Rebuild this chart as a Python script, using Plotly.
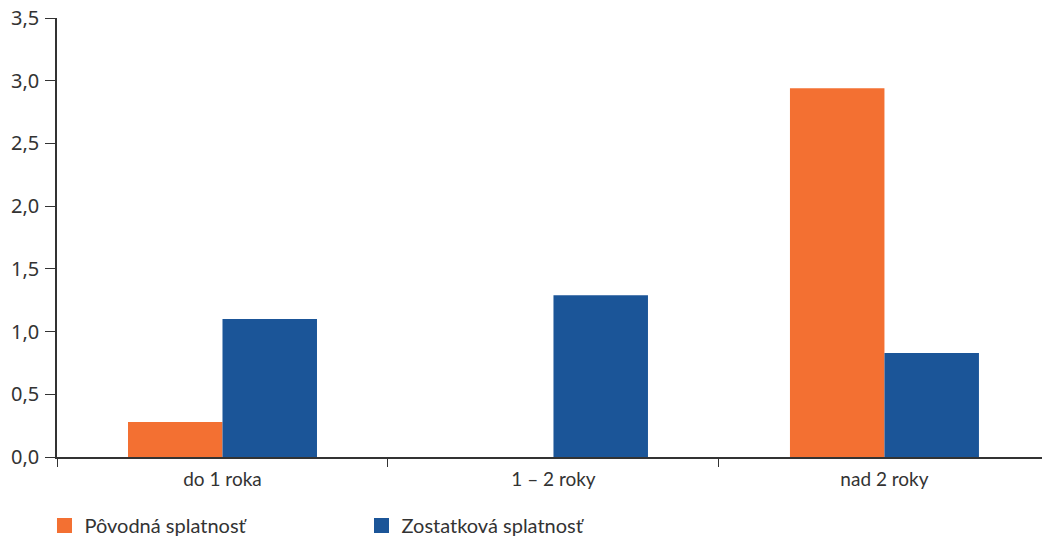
import plotly.graph_objects as go

categories = ["do 1 roka", "1 – 2 roky", "nad 2 roky"]
povodna = [0.28, 0, 2.94]
zostatkova = [1.10, 1.29, 0.83]
series_names = ["Pôvodná splatnosť", "Zostatková splatnosť"]
series_colors = ["#F37032", "#1B5598"]
y_ticks = [0, 0.5, 1.0, 1.5, 2.0, 2.5, 3.0, 3.5]

fig = go.Figure()
for name, vals, col in zip(series_names, [povodna, zostatkova], series_colors):
    fig.add_trace(go.Bar(x=categories, y=vals, name=name, showlegend=False,
                         marker=dict(color=col, line=dict(width=0))))
# legend entries with larger square swatches
for name, col in zip(series_names, series_colors):
    fig.add_trace(go.Scatter(x=[None], y=[None], mode="markers", name=name,
                             marker=dict(symbol="square", size=15, color=col),
                             showlegend=True))

fig.update_layout(
    width=1042, height=536,
    margin=dict(l=57, r=0, t=18, b=79, autoexpand=False),
    paper_bgcolor="white", plot_bgcolor="white",
    barmode="group", bargap=0.429, bargroupgap=0,
    separators=", ",
    showlegend=True,
    legend=dict(orientation="h", x=-0.0127, xanchor="left", y=-0.156, yanchor="middle",
                entrywidth=272, entrywidthmode="pixels",
                font=dict(family="Lato", size=20, color="#333333")),
    font=dict(family="Lato", size=19, color="#333333"),
)
fig.update_xaxes(
    type="category", range=[-0.5, 2.476],
    showline=True, linecolor="#333333", linewidth=1.5,
    ticks="outside", tickson="boundaries", ticklen=8, tickcolor="#333333",
    showgrid=False, zeroline=False, ticklabelstandoff=4, automargin=False,
    tickfont=dict(family="Lato", size=19, color="#333333"),
)
fig.update_yaxes(
    range=[0, 3.5], tickvals=y_ticks, tickformat=".1f",
    showline=True, linecolor="#333333", linewidth=1.5,
    ticks="outside", ticklen=10, tickcolor="#333333",
    showgrid=False, zeroline=False, automargin=False, ticklabelstandoff=2,
    tickfont=dict(family="Noto Sans", size=20, color="#333333"),
)
fig.write_html("out.html", config={"displayModeBar": False},
               post_script="document.body.style.margin='0';")
